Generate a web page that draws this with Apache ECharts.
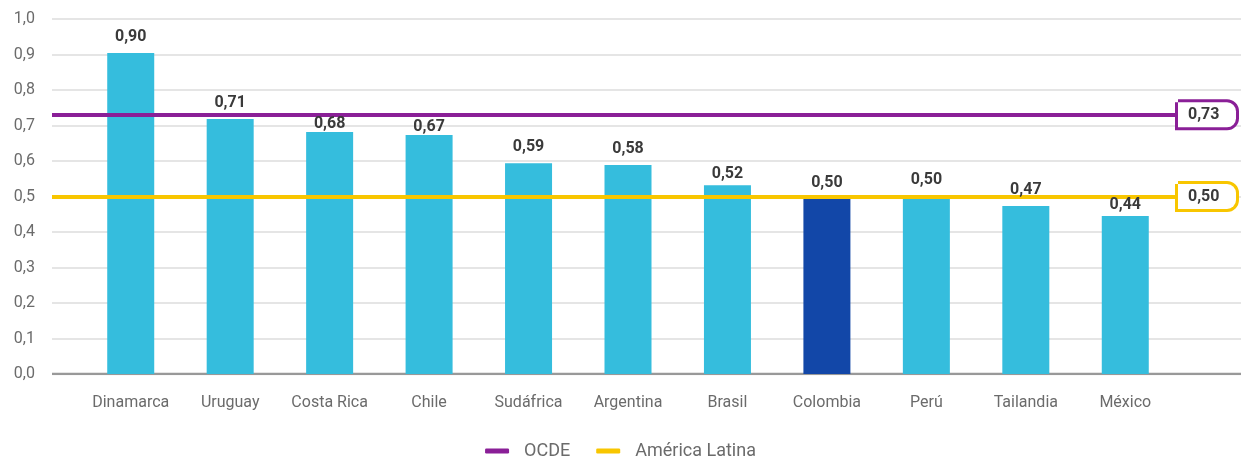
<!DOCTYPE html>
<html>
<head>
<meta charset="utf-8">
<script src="https://cdn.jsdelivr.net/npm/echarts@6/dist/echarts.min.js"></script>
<style>
html,body{margin:0;padding:0;background:#fff;}
#c{width:1241px;height:461px;}
</style>
</head>
<body>
<div id="c"></div>
<script>
const categories = ['Dinamarca','Uruguay','Costa Rica','Chile','Sudáfrica','Argentina','Brasil','Colombia','Perú','Tailandia','México'];
// bar heights as drawn in the picture
const values = [0.904,0.718,0.682,0.673,0.594,0.589,0.532,0.493,0.501,0.473,0.445];
// values as printed above the bars
const valueLabels = [0.90,0.71,0.68,0.67,0.59,0.58,0.52,0.50,0.50,0.47,0.44];
const highlightCategory = 'Colombia';
const ocdeValue = 0.73;
const latamValue = 0.50;

const FONT = 'Roboto';
const fmt = (v, d) => v.toFixed(d).replace('.', ',');
// label nudges (layout only)
const labelDistance = {'Costa Rica': 0, 'Chile': 0, 'Brasil': 3, 'México': 3};

const chart = echarts.init(document.getElementById('c'), null, {renderer:'canvas'});
const option = {
  animation: false,
  textStyle: {fontFamily: FONT},
  grid: [
    {left: 52, right: 0, top: 19, bottom: 87},
    {left: 52, right: 63, top: 19, bottom: 87},
    {left: 81, right: 66, top: 19, bottom: 87}
  ],
  xAxis: [
    {gridIndex: 0, type: 'value', min: 0, max: 1, show: true,
     axisLine: {show: false}, axisTick: {show: false}, axisLabel: {show: false}, splitLine: {show: false}},
    {gridIndex: 1, type: 'value', min: 0, max: 1, show: false},
    {gridIndex: 2, type: 'category', data: categories,
     axisLine: {show: false}, axisTick: {show: false},
     axisLabel: {color: '#6b6b6b', fontSize: 16, margin: 21, fontFamily: FONT, interval: 0}}
  ],
  yAxis: [
    {gridIndex: 0, type: 'value', min: 0, max: 1, interval: 0.1,
     axisLine: {show: false}, axisTick: {show: false},
     axisLabel: {color: '#6b6b6b', fontSize: 16, margin: 17, fontFamily: FONT,
       formatter: v => fmt(v, 1)},
     splitLine: {lineStyle: {color: '#dcdcdc', width: 1.5}}},
    {gridIndex: 1, type: 'value', min: 0, max: 1, show: false},
    {gridIndex: 2, type: 'value', min: 0, max: 1, show: false}
  ],
  legend: {
    bottom: 1, left: 'center', padding: 0,
    data: ['OCDE', 'América Latina'],
    icon: 'roundRect', itemWidth: 24, itemHeight: 5, itemGap: 26,
    textStyle: {color: '#6b6b6b', fontSize: 18, fontFamily: FONT, padding: [0,0,0,10]}
  },
  series: [
    {
      type: 'line', xAxisIndex: 0, yAxisIndex: 0, data: [[0,0],[1,0]],
      symbol: 'none', silent: true, lineStyle: {color: '#999999', width: 2.5}, z: 1
    },
    {
      type: 'bar', xAxisIndex: 2, yAxisIndex: 2, barWidth: 47, z: 2,
      data: values.map((v, i) => ({value: v, itemStyle: {color: categories[i] === highlightCategory ? '#1247a8' : '#35bddd'}}))
    },
    {
      name: 'OCDE', type: 'line', xAxisIndex: 1, yAxisIndex: 1, data: [],
      itemStyle: {color: '#8a1f97'}, lineStyle: {color: '#8a1f97'}, z: 5,
      markLine: {
        silent: true, symbol: 'none',
        lineStyle: {color: '#8a1f97', width: 4, type: 'solid'},
        label: {show: true, position: 'end', distance: 0, formatter: fmt(ocdeValue, 2),
          color: '#3a3a3a', fontSize: 16, fontWeight: 'bold', fontFamily: FONT,
          backgroundColor: '#fff', borderColor: '#8a1f97', borderWidth: 3,
          borderRadius: [0, 9, 9, 0], padding: [5, 10, 4, 10], width: 38, align: 'left'},
        data: [{yAxis: ocdeValue}]
      }
    },
    {
      name: 'América Latina', type: 'line', xAxisIndex: 1, yAxisIndex: 1, data: [],
      itemStyle: {color: '#f8c600'}, lineStyle: {color: '#f8c600'}, z: 5,
      markLine: {
        silent: true, symbol: 'none',
        lineStyle: {color: '#f8c600', width: 4, type: 'solid'},
        label: {show: true, position: 'end', distance: 0, formatter: fmt(latamValue, 2),
          color: '#3a3a3a', fontSize: 16, fontWeight: 'bold', fontFamily: FONT,
          backgroundColor: '#fff', borderColor: '#f8c600', borderWidth: 3,
          borderRadius: [0, 9, 9, 0], padding: [5, 10, 4, 10], width: 38, align: 'left'},
        data: [{yAxis: latamValue}]
      }
    },
    {
      type: 'bar', xAxisIndex: 2, yAxisIndex: 2, barWidth: 47, barGap: '-100%', z: 10, silent: true,
      itemStyle: {color: 'rgba(0,0,0,0)'},
      data: values.map((v, i) => (labelDistance[categories[i]] !== undefined
        ? {value: v, label: {distance: labelDistance[categories[i]]}} : v)),
      label: {show: true, position: 'top', distance: 8, color: '#3a3a3a', fontSize: 16, fontWeight: 'bold',
        fontFamily: FONT, formatter: p => fmt(valueLabels[p.dataIndex], 2)}
    }
  ]
};
chart.setOption(option);
</script>
</body>
</html>
